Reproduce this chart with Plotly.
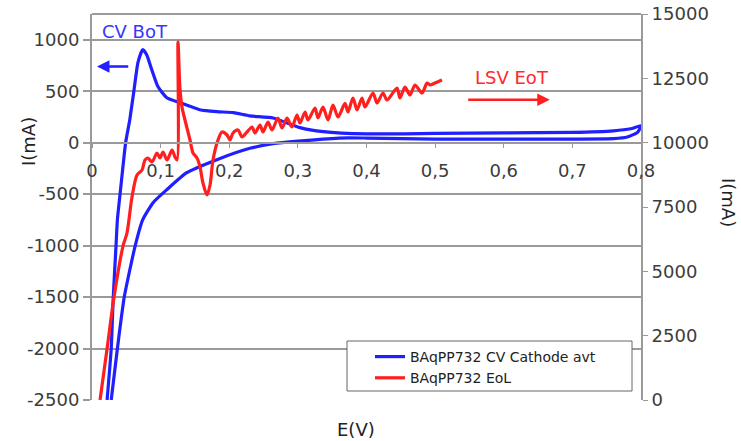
import plotly.graph_objects as go

# ---------------- data ----------------
# Blue: CV cathode (left axis, mA)
blue_E = [0.022, 0.028, 0.031, 0.035, 0.037, 0.042, 0.049, 0.055, 0.061, 0.067,
          0.074, 0.080, 0.087, 0.096, 0.109, 0.128, 0.157, 0.182, 0.206, 0.230,
          0.264, 0.303, 0.337, 0.400, 0.500, 0.600, 0.700, 0.760, 0.785, 0.800,
          0.795, 0.780, 0.760, 0.600, 0.500, 0.400, 0.360, 0.300, 0.264, 0.230,
          0.182, 0.138, 0.109, 0.089, 0.074, 0.063, 0.047, 0.037, 0.028]
blue_I = [-2500, -2000, -1500, -1000, -750, -430, 0, 220, 500, 780,
          904, 850, 710, 545, 437, 389, 320, 301, 292, 260,
          240, 146, 107, 85, 90, 95, 100, 115, 135, 165,
          100, 55, 40, 35, 35, 45, 45, 15, -10, -55,
          -165, -292, -457, -583, -748, -1000, -1500, -2000, -2500]

# Red: LSV EoL (right axis, mA)
red_E = [0.0117, 0.0219, 0.0321, 0.0452, 0.0510, 0.0583, 0.0656, 0.0729, 0.0772, 0.0816,
         0.0874, 0.0947, 0.0991, 0.1035, 0.1093, 0.1166, 0.1209, 0.1239, 0.1253, 0.1282,
         0.1311, 0.1355, 0.1428, 0.1472, 0.1530, 0.1574, 0.1617, 0.1676, 0.1720, 0.1763,
         0.1836, 0.1894, 0.1967, 0.2011, 0.2055, 0.2128, 0.2186, 0.2259, 0.2332, 0.2375,
         0.2448, 0.2492, 0.2565, 0.2623, 0.2710, 0.2769, 0.2842, 0.2914, 0.2987, 0.3031,
         0.3104, 0.3148, 0.3250, 0.3293, 0.3366, 0.3439, 0.3512, 0.3585, 0.3687, 0.3730,
         0.3803, 0.3862, 0.3934, 0.3978, 0.4095, 0.4153, 0.4240, 0.4299, 0.4444, 0.4488,
         0.4561, 0.4634, 0.4707, 0.4809, 0.4882, 0.4925, 0.4998, 0.5100]
red_I = [0, 1982, 4003, 5984, 6490, 7889, 8744, 8938, 9326, 9404,
         9249, 9598, 9404, 9637, 9326, 9715, 9443, 9326, 13912, 12100,
         11386, 10881, 10104, 9598, 9404, 9054, 8433, 7966, 8355, 9326,
         10104, 10414, 10298, 10104, 10376, 10492, 10220, 10414, 10609, 10376,
         10687, 10414, 10803, 10492, 10959, 10570, 10959, 10609, 11075, 10764,
         11192, 10881, 11347, 10959, 11386, 10881, 11464, 10997, 11523, 11192,
         11736, 11269, 11736, 11386, 11930, 11541, 11930, 11658, 12124, 11736,
         12163, 11852, 12241, 11930, 12318, 12241, 12318, 12435]

x_ticks = [0, 0.1, 0.2, 0.3, 0.4, 0.5, 0.6, 0.7, 0.8]
x_ticktext = ["0", "0,1", "0,2", "0,3", "0,4", "0,5", "0,6", "0,7", "0,8"]
y_ticks = [-2500, -2000, -1500, -1000, -500, 0, 500, 1000]
y2_ticks = [0, 2500, 5000, 7500, 10000, 12500, 15000]

series_names = ["BAqPP732 CV Cathode avt", "BAqPP732 EoL"]

# ---------------- figure ----------------
FONT = "DejaVu Sans"
GRID = "#9a9a9a"
TXT = "#3c3c3c"
BLUE = "#1f1fff"
RED = "#ff1f1f"
W, H, L, R, T, B = 741, 441, 92, 100, 14, 41
pw, ph = W - L - R, H - T - B


def px2paper(px, py):
    return (px - L) / pw, (H - B - py) / ph


fig = go.Figure()
fig.add_trace(go.Scatter(x=blue_E, y=blue_I, name=series_names[0], mode="lines",
                         line=dict(color=BLUE, width=3.2, shape="spline", smoothing=0.5),
                         yaxis="y"))
fig.add_trace(go.Scatter(x=red_E, y=red_I, name=series_names[1], mode="lines",
                         line=dict(color=RED, width=3.2, shape="spline", smoothing=0.8),
                         yaxis="y2"))

lx, ly = px2paper(370, 341)
fig.update_layout(
    width=W, height=H,
    margin=dict(l=L, r=R, t=T, b=B, autoexpand=False),
    paper_bgcolor="white", plot_bgcolor="white",
    font=dict(family=FONT, size=18, color=TXT),
    xaxis=dict(range=[0, 0.8], tickvals=x_ticks, ticktext=x_ticktext,
               anchor="free", position=2/3, showgrid=False, zeroline=False,
               showline=True, linecolor=GRID, linewidth=2, automargin=False,
               ticks="outside", ticklen=4, tickcolor=GRID, tickwidth=1,
               ticklabelstandoff=8, tickfont=dict(size=18, color=TXT)),
    yaxis=dict(range=[-2500, 1250], tickvals=y_ticks, ticktext=[str(v) for v in y_ticks],
               showgrid=True, gridcolor=GRID, gridwidth=2, zeroline=False,
               showline=True, linecolor=GRID, linewidth=2, automargin=False,
               ticks="outside", ticklen=7, tickcolor=GRID, tickwidth=2,
               tickfont=dict(size=18, color=TXT)),
    yaxis2=dict(range=[0, 15000], tickvals=y2_ticks, ticktext=[str(v) for v in y2_ticks],
                overlaying="y", side="right", showgrid=False, zeroline=False,
                showline=True, linecolor=GRID, linewidth=2, automargin=False,
                ticks="outside", ticklen=5, tickcolor=GRID, tickwidth=1,
                tickfont=dict(size=18, color=TXT)),
    legend=dict(x=lx, y=ly, xanchor="left", yanchor="top",
                bgcolor="rgba(0,0,0,0)", borderwidth=0,
                font=dict(family=FONT, size=14, color="#222222"),
                itemwidth=30),
    showlegend=True,
)

# top frame line
fig.add_shape(type="line", xref="x domain", yref="y domain", x0=0, x1=1, y0=1, y1=1,
              line=dict(color=GRID, width=2))
# legend box
bx0, by0 = px2paper(347, 391)
bx1, by1 = px2paper(632, 341)
fig.add_shape(type="rect", xref="paper", yref="paper", x0=bx0, x1=bx1, y0=by0, y1=by1,
              line=dict(color="#666666", width=1), fillcolor="white", layer="above")

# text labels
fig.add_annotation(text="CV BoT", x=0.063, y=1079, xref="x", yref="y", showarrow=False,
                   font=dict(family=FONT, size=18, color="#3535ff"))
fig.add_annotation(text="LSV EoT", x=0.612, y=632, xref="x", yref="y", showarrow=False,
                   font=dict(family=FONT, size=18, color="#ff2a2a"))
# arrows
fig.add_annotation(text="", x=0.0073, y=739, ax=0.055, ay=739, xref="x", yref="y",
                   axref="x", ayref="y", showarrow=True, arrowhead=2, arrowsize=1,
                   arrowwidth=2.5, arrowcolor=BLUE)
fig.add_annotation(text="", x=0.667, y=418, ax=0.546, ay=418, xref="x", yref="y",
                   axref="x", ayref="y", showarrow=True, arrowhead=2, arrowsize=1,
                   arrowwidth=2.5, arrowcolor=RED)
# axis titles
for txt, px, py, ang in [("E(V)", 356, 429, 0), ("I(mA)", 28, 142, -90), ("I(mA)", 728, 202, 90)]:
    ax_, ay_ = px2paper(px, py)
    fig.add_annotation(text=txt, x=ax_, y=ay_, xref="paper", yref="paper",
                       xanchor="center", yanchor="middle", showarrow=False, textangle=ang,
                       font=dict(family=FONT, size=18, color="#222222"))

fig.write_html("out.html")
